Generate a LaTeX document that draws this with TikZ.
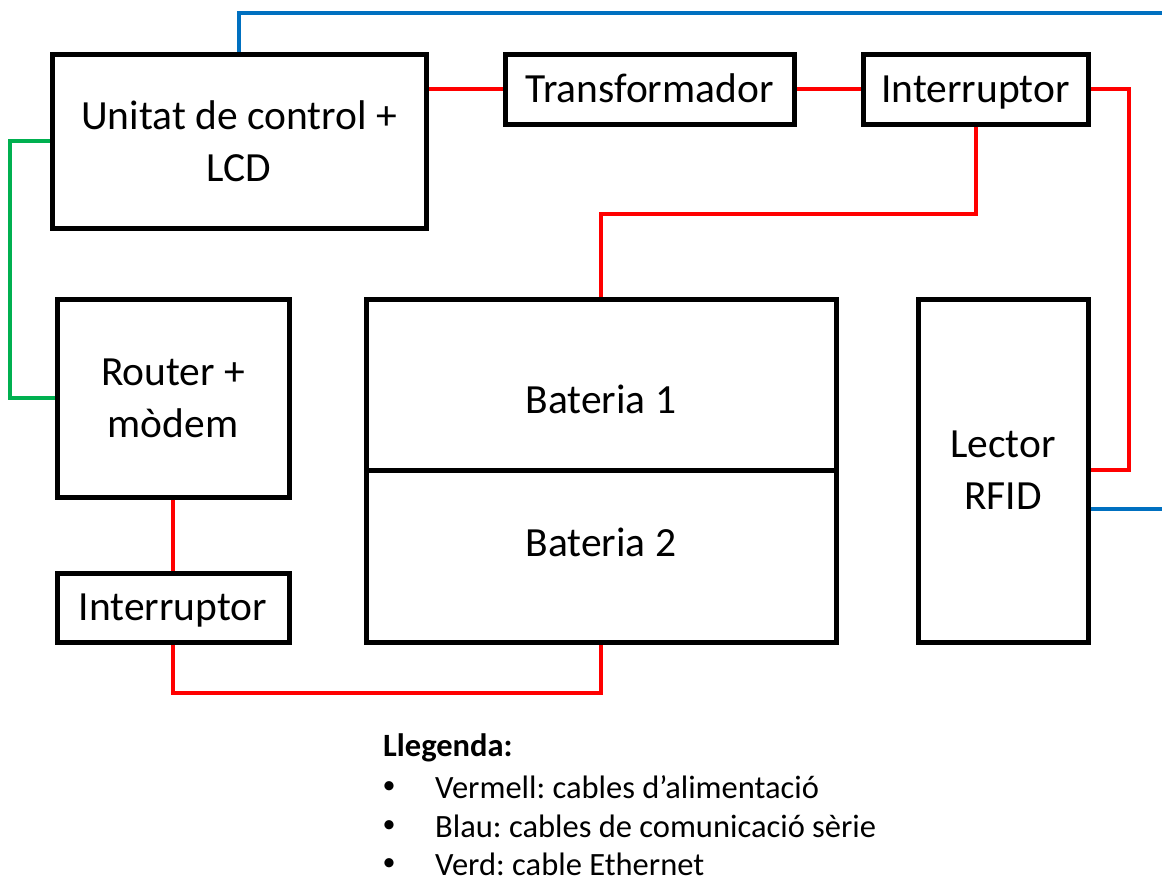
\documentclass[tikz,border=0pt]{standalone}
\usepackage{fontspec}
\setmainfont{Carlito}
\definecolor{cred}{HTML}{FF0000}
\definecolor{cblue}{HTML}{0070C0}
\definecolor{cgreen}{HTML}{00B050}
\tikzset{
  blk/.style={draw=black, line width=5pt, fill=white, inner sep=0pt, align=center,
    font=\fontsize{41.5}{52}\selectfont},
  oneline/.style={text height=26.7pt, text depth=0pt},
  lbl/.style={inner sep=0pt, font=\fontsize{41.5}{52}\selectfont, text height=26.7pt, text depth=0pt},
  redw/.style={draw=cred, line width=4pt},
  bluew/.style={draw=cblue, line width=4pt},
  greenw/.style={draw=cgreen, line width=4pt},
  legt/.style={anchor=west, inner sep=0pt, font=\fontsize{32.5}{39}\selectfont},
  bul/.style={inner sep=0pt, font=\fontsize{26}{30}\selectfont},
}
\begin{document}
\begin{tikzpicture}[x=1pt, y=-1pt]
\frenchspacing
\useasboundingbox (0,0) rectangle (1162,876);
\coordinate (bTop) at (1162,13);
\coordinate (bRight) at (1162,509);
\coordinate (rTurn) at (1129,470);
\node[blk, minimum width=374pt, minimum height=174pt] (U) at (239,141) {Unitat de control +\\LCD};
\node[blk, oneline, minimum width=289pt, minimum height=70pt] (T) at (649.5,89) {Transformador};
\node[blk, oneline, minimum width=225pt, minimum height=70pt] (I1) at (975.5,89) {Interruptor};
\node[blk, minimum width=232pt, minimum height=198pt] (R) at (173,398) {Router +\\mòdem};
\node[blk, oneline, minimum width=232pt, minimum height=69pt] (I2) at (173,607.5) {Interruptor};
\node[blk, minimum width=470pt, minimum height=171pt] (B1) at (601,384.5) {};
\node[blk, minimum width=470pt, minimum height=172pt] (B2) at (601,556) {};
\node[lbl] (B1t) at (601,400) {Bateria 1};
\node[lbl] (B2t) at (601,543.5) {Bateria 2};
\node[blk, minimum width=170pt, minimum height=343pt] (L) at (1003,470.5) {Lector\\RFID};
% blue
\draw[bluew] (U.north) |- (bTop);
\draw[bluew] (bRight -| L.east) -- (bRight);
% red
\draw[redw] (T.west -| U.east) -- (T.west);
\draw[redw] (T.east) -- (I1.west);
\draw[redw] (I1.east) -| (rTurn) -- (rTurn -| L.east);
\draw[redw] (I1.south) -- ++(0,87) -| (B1.north);
\draw[redw] (R.south) -- (I2.north);
\draw[redw] (I2.south) -- ++(0,48) -| (B2.south);
% green
\draw[greenw] (U.west) -- ++(-40,0) |- (R.west);
% legend
\node[legt, font=\fontsize{32.5}{39}\selectfont\bfseries] (lg) at (383,748) {Llegenda:};
\node[bul] (b1) at (389,788) {\textbullet};
\node[legt] (t1) at (435,787) {Vermell: cables d’alimentació};
\node[bul] (b2) at (389,827) {\textbullet};
\node[legt] (t2) at (435,826) {Blau: cables de comunicació sèrie};
\node[bul] (b3) at (389,865) {\textbullet};
\node[legt] (t3) at (435,864) {Verd: cable Ethernet};
\end{tikzpicture}
\end{document}
